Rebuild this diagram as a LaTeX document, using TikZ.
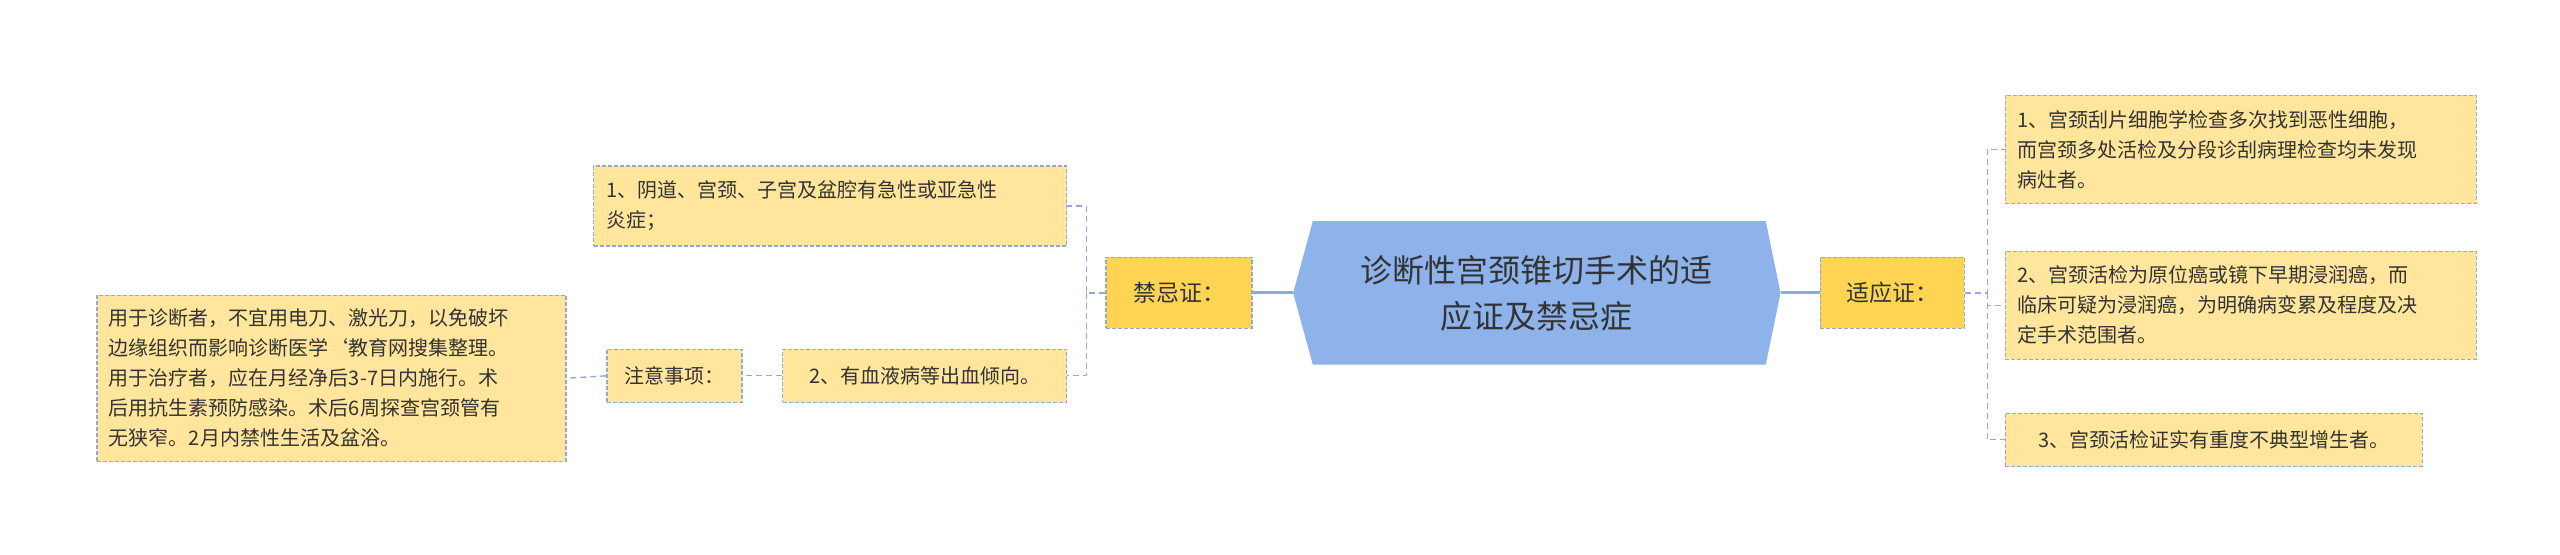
\documentclass[tikz,border=0pt]{standalone}
\usepackage{fontspec}
\setmainfont{Noto Sans CJK SC}
\usetikzlibrary{calc}
\definecolor{bord}{HTML}{94A9CC}
\definecolor{fillY}{HTML}{FFE69C}
\definecolor{fillO}{HTML}{FFD452}
\definecolor{cen}{HTML}{8EB3EA}
\definecolor{txt}{HTML}{333333}
\definecolor{lnk}{HTML}{8FAADC}
\tikzset{
  leaf/.style={draw=bord, fill=fillY, dashed, dash pattern=on 4pt off 2pt, line width=1.2pt, align=left, inner xsep=12pt, inner ysep=4pt,
    font=\fontsize{20}{30}\selectfont, text=txt, anchor=center},
  mid/.style={leaf, fill=fillO, font=\fontsize{23}{30}\selectfont, align=center},
  conn/.style={draw=lnk, line width=1.4pt, dashed, dash pattern=on 6pt off 4pt},
  solidc/.style={draw=lnk, line width=3pt}
}
\begin{document}
\begin{tikzpicture}[x=1.641pt,y=-1.641pt]
\useasboundingbox (0,0) rectangle (1560,338.2);
\node[fill=none, minimum width=487pt, minimum height=143pt, inner sep=0pt] (c) at (936.5,178.5) {};
\fill[cen] ($(c.north west)+(12,0)$) -- ($(c.north east)+(-9,0)$) -- (c.east) -- ($(c.south east)+(-9,0)$) -- ($(c.south west)+(12,0)$) -- (c.west) -- cycle;
\node[align=center, font=\fontsize{32}{46}\selectfont, text=txt] at (c) {诊断性宫颈锥切手术的适\\应证及禁忌症};
\node[mid, minimum width=146pt, minimum height=71pt] (jj) at (718.5,178.5) {禁忌证：};
\node[mid, minimum width=144pt, minimum height=71pt] (sy) at (1153,178.5) {适应证：};
\node[leaf, minimum width=473pt, minimum height=80pt, text width=447pt] (l1) at (506,125.5) {1、阴道、宫颈、子宫及盆腔有急性或亚急性\\炎症；};
\node[leaf, minimum width=284pt, minimum height=53pt] (l2) at (563.5,229) {2、有血液病等出血倾向。};
\node[leaf, minimum width=135pt, minimum height=53pt] (zy) at (411,229) {注意事项：};
\node[leaf, minimum width=469pt, minimum height=166pt, text width=445pt, inner xsep=10pt] (nt) at (202,230.5) {用于诊断者，不宜用电刀、激光刀，以免破坏\\边缘组织而影响诊断医学`教育网搜集整理。\\用于治疗者，应在月经净后3-7日内施行。术\\后用抗生素预防感染。术后6周探查宫颈管有\\无狭窄。2月内禁性生活及盆浴。};
\node[leaf, minimum width=471pt, minimum height=108pt, text width=447pt] (r1) at (1365.5,91) {1、宫颈刮片细胞学检查多次找到恶性细胞，\\而宫颈多处活检及分段诊刮病理检查均未发现\\病灶者。};
\node[leaf, minimum width=471pt, minimum height=108pt, text width=447pt] (r2) at (1365.5,186) {2、宫颈活检为原位癌或镜下早期浸润癌，而\\临床可疑为浸润癌，为明确病变累及程度及决\\定手术范围者。};
\node[leaf, minimum width=417pt, minimum height=53pt] (r3) at (1349,268) {3、宫颈活检证实有重度不典型增生者。};
\draw[solidc] (c.west) -- (jj.east);
\draw[solidc] (c.east) -- (sy.east -| sy.west);
\coordinate (lb) at (662,178.5);
\coordinate (rb) at (1211,178.5);
\draw[conn] (jj.west) -- (lb) |- (l1.east);
\draw[conn] (lb) |- (l2.east);
\draw[conn] (sy.east) -- (rb) |- (r1.west);
\draw[conn] (rb) |- (r2.west);
\draw[conn] (rb) |- (r3.west);
\draw[conn] (l2.west) -- (zy.east);
\draw[conn] (zy.west) -- (nt.east);
\end{tikzpicture}
\end{document}
